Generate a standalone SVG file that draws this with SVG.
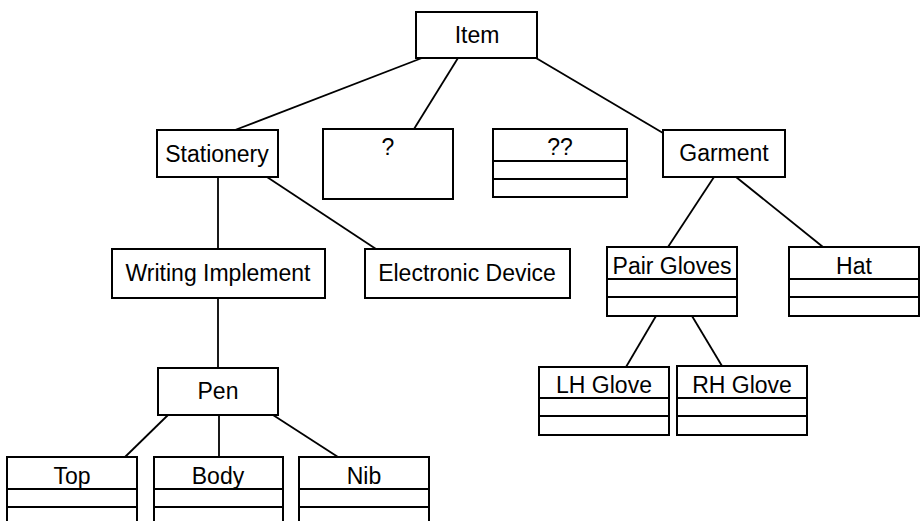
<svg xmlns="http://www.w3.org/2000/svg" width="922" height="521" viewBox="0 0 922 521">
<style>
rect{fill:#fff;stroke:#000;stroke-width:2}
.d{stroke:#000;stroke-width:2}
.c line{stroke:#000;stroke-width:1.8}
text{font-family:"Liberation Sans",Arial,sans-serif;font-size:23px;fill:#000;text-anchor:middle}
</style>
<rect x="0" y="0" width="922" height="521" style="stroke:none;fill:#fff"/>
<g class="c" id="connectors">
<line x1="422" y1="58" x2="235" y2="130"/>
<line x1="458" y1="58" x2="414" y2="129"/>
<line x1="536" y1="58" x2="663" y2="133"/>
<line x1="218" y1="177" x2="218" y2="249"/>
<line x1="267" y1="177" x2="376" y2="249"/>
<line x1="218" y1="298" x2="218" y2="368"/>
<line x1="168" y1="415" x2="125" y2="457"/>
<line x1="219" y1="415" x2="219" y2="457"/>
<line x1="273" y1="415" x2="338" y2="457"/>
<line x1="714" y1="177" x2="668" y2="247"/>
<line x1="736" y1="177" x2="823" y2="247"/>
<line x1="656" y1="316" x2="626" y2="367"/>
<line x1="692" y1="316" x2="722" y2="366"/>
</g>
<g id="item"><rect x="416" y="12" width="121" height="46"/><text x="477" y="43">Item</text></g>
<g id="stationery"><rect x="157" y="130" width="121" height="47"/><text x="217" y="162">Stationery</text></g>
<g id="q1"><rect x="323" y="129" width="130" height="70"/><text x="388" y="155">?</text></g>
<g id="q2"><rect x="493" y="129" width="134" height="68"/><line class="d" x1="493" y1="161" x2="627" y2="161"/><line class="d" x1="493" y1="179" x2="627" y2="179"/><text x="560" y="155">??</text></g>
<g id="garment"><rect x="663" y="130" width="122" height="47"/><text x="724" y="161">Garment</text></g>
<g id="writing"><rect x="112" y="249" width="213" height="49"/><text x="218" y="281">Writing Implement</text></g>
<g id="electronic"><rect x="365" y="249" width="205" height="49"/><text x="467" y="281">Electronic Device</text></g>
<g id="pairgloves"><rect x="607" y="247" width="130" height="69"/><line class="d" x1="607" y1="279" x2="737" y2="279"/><line class="d" x1="607" y1="297" x2="737" y2="297"/><text x="672" y="274">Pair Gloves</text></g>
<g id="hat"><rect x="789" y="247" width="130" height="69"/><line class="d" x1="789" y1="279" x2="919" y2="279"/><line class="d" x1="789" y1="297" x2="919" y2="297"/><text x="854" y="274">Hat</text></g>
<g id="lhglove"><rect x="539" y="367" width="130" height="68"/><line class="d" x1="539" y1="398" x2="669" y2="398"/><line class="d" x1="539" y1="416" x2="669" y2="416"/><text x="604" y="393">LH Glove</text></g>
<g id="rhglove"><rect x="677" y="366" width="130" height="69"/><line class="d" x1="677" y1="398" x2="807" y2="398"/><line class="d" x1="677" y1="416" x2="807" y2="416"/><text x="742" y="393">RH Glove</text></g>
<g id="pen"><rect x="158" y="368" width="120" height="47"/><text x="218" y="399">Pen</text></g>
<g id="top"><rect x="7" y="457" width="130" height="80"/><line class="d" x1="7" y1="489" x2="137" y2="489"/><line class="d" x1="7" y1="507" x2="137" y2="507"/><text x="72" y="484">Top</text></g>
<g id="body"><rect x="154" y="457" width="129" height="80"/><line class="d" x1="154" y1="489" x2="283" y2="489"/><line class="d" x1="154" y1="507" x2="283" y2="507"/><text x="218" y="484">Body</text></g>
<g id="nib"><rect x="299" y="457" width="130" height="80"/><line class="d" x1="299" y1="489" x2="429" y2="489"/><line class="d" x1="299" y1="507" x2="429" y2="507"/><text x="364" y="484">Nib</text></g>
</svg>
